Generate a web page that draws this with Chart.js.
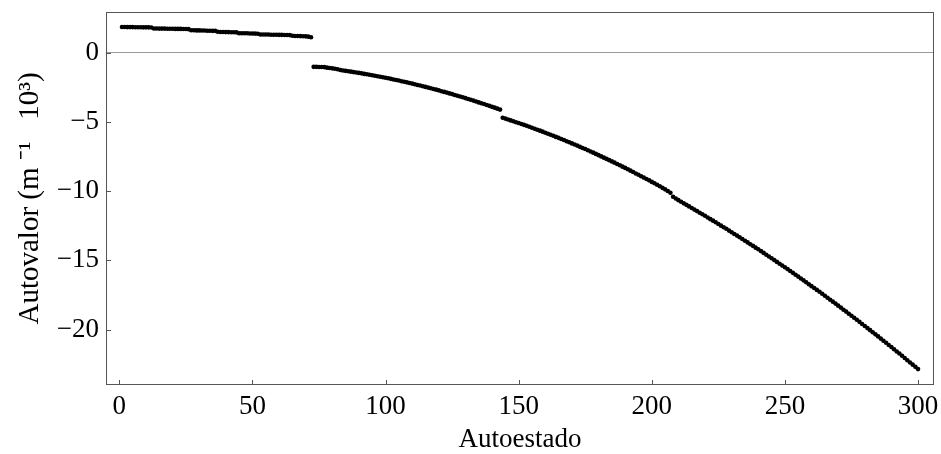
<!DOCTYPE html>
<html lang="es">
<head>
<meta charset="utf-8">
<title>Autovalores</title>
<script src="https://cdn.jsdelivr.net/npm/chart.js@4.4.1/dist/chart.umd.min.js"></script>
<style>
  html, body { margin: 0; padding: 0; background: #ffffff; }
  #caja { position: relative; width: 941px; height: 454px; }
</style>
</head>
<body>
<div id="caja"><canvas id="grafico"></canvas></div>
<script>
// Autovalores (m^-1 10^3) ordenados por autoestado, en tres ramas.
const rama1 = [
  1.86, 1.86, 1.85, 1.85, 1.85, 1.84, 1.84, 1.84, 1.83, 1.83, 1.83, 1.82,
  1.75, 1.75, 1.74, 1.74, 1.74, 1.73, 1.73, 1.73, 1.72, 1.72, 1.72, 1.71, 1.71, 1.70,
  1.62, 1.62, 1.61, 1.61, 1.60, 1.60, 1.59, 1.59, 1.58, 1.58,
  1.51, 1.50, 1.50, 1.49, 1.49, 1.48, 1.48, 1.47,
  1.41, 1.41, 1.40, 1.40, 1.39, 1.39, 1.38, 1.37,
  1.32, 1.32, 1.31, 1.31, 1.30, 1.30, 1.30, 1.29, 1.29, 1.28, 1.28, 1.27,
  1.22, 1.21, 1.21, 1.20, 1.19, 1.18, 1.16, 1.12
];
const rama2 = [
  -1.02, -1.02, -1.03, -1.03, -1.04, -1.08, -1.10, -1.13, -1.16, -1.20,
  -1.25, -1.28, -1.31, -1.34, -1.37, -1.40, -1.43, -1.46, -1.49, -1.53,
  -1.56, -1.59, -1.63, -1.66, -1.70, -1.74, -1.77, -1.81, -1.85, -1.89,
  -1.93, -1.97, -2.01, -2.06, -2.10, -2.14, -2.19, -2.23, -2.28, -2.33,
  -2.37, -2.42, -2.47, -2.52, -2.57, -2.62, -2.67, -2.72, -2.78, -2.83,
  -2.88, -2.94, -2.99, -3.05, -3.11, -3.16, -3.22, -3.28, -3.34, -3.40,
  -3.46, -3.52, -3.59, -3.65, -3.71, -3.78, -3.84, -3.91, -3.97, -4.04,
  -4.11
];
const rama3 = [
  -4.70, -4.76, -4.82, -4.89, -4.95, -5.02, -5.08, -5.15, -5.21, -5.28,
  -5.35, -5.42, -5.49, -5.56, -5.63, -5.70, -5.78, -5.85, -5.93, -6.00,
  -6.08, -6.15, -6.23, -6.31, -6.39, -6.47, -6.55, -6.63, -6.71, -6.80,
  -6.88, -6.96, -7.05, -7.14, -7.22, -7.31, -7.40, -7.49, -7.58, -7.67,
  -7.76, -7.85, -7.94, -8.04, -8.13, -8.23, -8.32, -8.42, -8.52, -8.62,
  -8.72, -8.82, -8.92, -9.02, -9.12, -9.22, -9.33, -9.43, -9.54, -9.64,
  -9.76, -9.87, -9.99, -10.12,
  -10.40, -10.53, -10.65, -10.77, -10.88, -10.99,
  -11.10, -11.22, -11.33, -11.44, -11.56, -11.67, -11.78, -11.90, -12.02, -12.13,
  -12.25, -12.37, -12.49, -12.61, -12.72, -12.85, -12.97, -13.09, -13.21, -13.33,
  -13.45, -13.58, -13.70, -13.83, -13.95, -14.08, -14.20, -14.33, -14.46, -14.59,
  -14.72, -14.85, -14.98, -15.11, -15.24, -15.37, -15.50, -15.63, -15.77, -15.90,
  -16.04, -16.17, -16.31, -16.44, -16.58, -16.72, -16.86, -16.99, -17.13, -17.27,
  -17.41, -17.55, -17.70, -17.84, -17.98, -18.12, -18.27, -18.41, -18.56, -18.70,
  -18.85, -19.00, -19.14, -19.29, -19.44, -19.59, -19.74, -19.89, -20.04, -20.19,
  -20.34, -20.49, -20.65, -20.80, -20.95, -21.11, -21.26, -21.42, -21.58, -21.73,
  -21.89, -22.05, -22.21, -22.37, -22.53, -22.69, -22.85
];

const tituloX = 'Autoestado';
const tituloY = 'Autovalor (m \u207B\u00B9   10\u00B3)';

// Autoestados numerados desde 1
const autovalores = rama1.concat(rama2, rama3);
const puntos = autovalores.map((v, i) => ({ x: i + 1, y: v }));

const fuente = '"Liberation Serif", "Times New Roman", serif';

// Marco alrededor del área de trazado, con marcas hacia dentro
const marco = {
  id: 'marco',
  afterDraw(chart) {
    const { ctx, chartArea: a, scales: { x, y } } = chart;
    ctx.save();
    ctx.strokeStyle = '#555555';
    ctx.lineWidth = 1;
    ctx.strokeRect(a.left + 0.5, a.top + 0.5, a.right - a.left - 1, a.bottom - a.top - 1);
    ctx.beginPath();
    x.ticks.forEach(t => {
      const px = Math.round(x.getPixelForValue(t.value)) + 0.5;
      ctx.moveTo(px, a.bottom);
      ctx.lineTo(px, a.bottom - 5);
    });
    y.ticks.forEach(t => {
      const py = Math.round(y.getPixelForValue(t.value)) + 0.5;
      ctx.moveTo(a.left, py);
      ctx.lineTo(a.left + 5, py);
    });
    ctx.stroke();
    ctx.restore();
  }
};

new Chart(document.getElementById('grafico'), {
  type: 'scatter',
  data: {
    datasets: [{
      data: puntos,
      backgroundColor: '#000000',
      borderWidth: 0,
      pointRadius: 2.3,
      pointHoverRadius: 2.3
    }]
  },
  options: {
    responsive: true,
    maintainAspectRatio: false,
    animation: false,
    devicePixelRatio: 1,
    layout: { padding: { top: 12, right: 7, left: 0, bottom: 0 } },
    plugins: { legend: { display: false }, tooltip: { enabled: false } },
    scales: {
      x: {
        type: 'linear',
        min: -5,
        max: 306,
        border: { display: false },
        grid: { display: false, drawTicks: false },
        ticks: {
          stepSize: 50,
          includeBounds: false,
          padding: 6,
          color: '#000000',
          font: { family: fuente, size: 27 },
          maxRotation: 0
        },
        title: {
          display: true,
          text: tituloX,
          color: '#000000',
          font: { family: fuente, size: 27 },
          padding: { top: 0, bottom: -2 }
        },
        afterFit(s) {
          s.height = 69;
          s.paddingLeft = 0;
          s.paddingRight = 0;
        }
      },
      y: {
        type: 'linear',
        min: -24.0,
        max: 2.94,
        border: { display: false },
        grid: {
          drawTicks: false,
          lineWidth: 1,
          color: c => (c.tick && c.tick.value === 0 ? '#9a9a9a' : 'rgba(0,0,0,0)')
        },
        ticks: {
          stepSize: 5,
          includeBounds: false,
          padding: 7,
          color: '#000000',
          font: { family: fuente, size: 27 },
          callback: v => (v < 0 ? '\u2212' + Math.abs(v) : String(v))
        },
        title: {
          display: true,
          text: tituloY,
          color: '#000000',
          font: { family: fuente, size: 29 },
          padding: { top: 13, bottom: 0 }
        },
        afterFit(s) {
          s.width = 106;
          s.paddingTop = 0;
          s.paddingBottom = 0;
        }
      }
    }
  },
  plugins: [marco]
});
</script>
</body>
</html>
